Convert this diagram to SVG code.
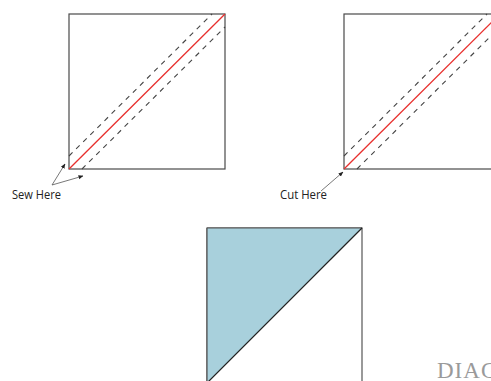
<svg xmlns="http://www.w3.org/2000/svg" width="491" height="381" viewBox="0 0 491 381">
<defs>
<style>
.sq{fill:#fff;stroke:#4a4a4a;stroke-width:1.2}
.cut{stroke:#e8302e;stroke-width:1.3;fill:none}
.dash{stroke:#444;stroke-width:1.1;stroke-dasharray:5 5;fill:none}
.lead{stroke:#555;stroke-width:0.8;fill:none}
.lbl{font-family:"Open Sans","Liberation Sans",sans-serif;font-size:13px;fill:#222}
</style>
<marker id="ah" viewBox="0 0 10 10" refX="9" refY="5" markerWidth="5" markerHeight="5" orient="auto" markerUnits="userSpaceOnUse">
<path d="M0,1 L10,5 L0,9 Z" fill="#222"/>
</marker>
</defs>
<rect width="491" height="381" fill="#fff"/>
<g id="square-sew">
<rect class="sq" x="69" y="14" width="156" height="155"/>
<line class="dash" x1="69" y1="156" x2="212" y2="14"/>
<line class="dash" x1="82" y1="169" x2="225" y2="27"/>
<line class="cut" x1="69" y1="169" x2="225" y2="14"/>
</g>
<g id="square-cut">
<rect class="sq" x="344" y="14" width="156" height="155"/>
<line class="dash" x1="344" y1="156" x2="487" y2="14"/>
<line class="dash" x1="357" y1="169" x2="500" y2="27"/>
<line class="cut" x1="344" y1="169" x2="500" y2="14"/>
</g>
<g id="square-result">
<rect x="207" y="228" width="155" height="160" fill="#fff" stroke="#555" stroke-width="1.2"/>
<polygon points="207,228 362,228 207,383" fill="#a8d0dc"/>
<line x1="207" y1="228" x2="362" y2="228" stroke="#555" stroke-width="1.2"/>
<line x1="207" y1="228" x2="207" y2="383" stroke="#555" stroke-width="1.2"/>
<line x1="362" y1="228" x2="207" y2="383" stroke="#222" stroke-width="1.2"/>
</g>
<g id="connectors">
<line class="lead" x1="52" y1="185" x2="65" y2="164" marker-end="url(#ah)"/>
<line class="lead" x1="52" y1="185" x2="83" y2="176" marker-end="url(#ah)"/>
<line class="lead" x1="321" y1="191" x2="343" y2="172" marker-end="url(#ah)"/>
</g>
<g id="label-sew"><text class="lbl" x="12" y="199" textLength="49" lengthAdjust="spacingAndGlyphs">Sew Here</text></g>
<g id="label-cut"><text class="lbl" x="280" y="199" textLength="47" lengthAdjust="spacingAndGlyphs">Cut Here</text></g>
<g id="watermark"><text x="437" y="378" font-family="'Liberation Serif',serif" font-size="23" fill="#9a9a9a" letter-spacing="1">DIAG</text></g>
</svg>
